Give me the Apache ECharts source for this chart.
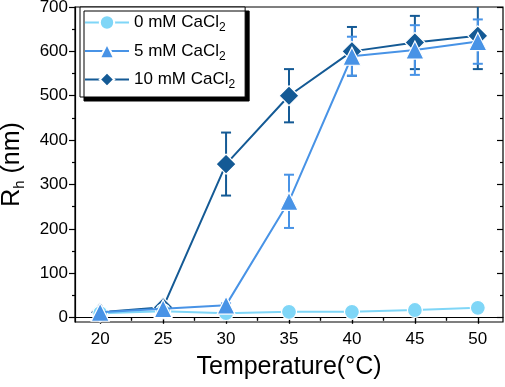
<!DOCTYPE html>
<html><head><meta charset="utf-8">
<script src="https://cdn.jsdelivr.net/npm/echarts@6/dist/echarts.min.js"></script>
<style>html,body{margin:0;padding:0;background:#fff}#c{width:505px;height:387px}</style>
</head><body><div id="c"></div>
<script>
const temps = [20, 25, 30, 35, 40, 45, 50];
const rh0 = [10, 14, 10, 13, 13, 17, 22];
const rh5 = [12, 20, 28, 262, 589, 603, 622];
const err5 = [3, 4, 4, 60, 44, 56, 50];
const rh10 = [12, 23, 346, 500, 600, 620, 635];
const err10 = [3, 5, 71, 60, 55, 60, 75];
const xTicks = [20, 25, 30, 35, 40, 45, 50];
const xMinor = [22.5, 27.5, 32.5, 37.5, 42.5, 47.5];
const yTicks = [0, 100, 200, 300, 400, 500, 600, 700];
const yMinor = [50, 150, 250, 350, 450, 550, 650];
const names = ['0 mM CaCl', '5 mM CaCl', '10 mM CaCl'];

const C0 = '#7fd6f7', C5 = '#4893e6', C10 = '#145a95';
const FONT = 'Liberation Sans';

function xAx(pos, vals, len, inside, labels, extra) {
  return Object.assign({
    type: 'value', min: 18, max: 52, position: pos,
    axisLine: {show: labels, lineStyle: {color: '#000', width: 1.2}},
    splitLine: {show: false},
    axisTick: {show: true, customValues: vals, length: len, inside: inside, lineStyle: {color: '#000', width: 1.2}},
    axisLabel: labels ? {show: true, customValues: vals, color: '#000', fontSize: 17, fontFamily: FONT, margin: 9} : {show: false}
  }, extra || {});
}
function yAx(pos, vals, len, inside, labels, extra) {
  return Object.assign({
    type: 'value', min: -10, max: 700, position: pos,
    axisLine: {show: labels, lineStyle: {color: '#000', width: 1.2}},
    splitLine: {show: false},
    axisTick: {show: true, customValues: vals, length: len, inside: inside, lineStyle: {color: '#000', width: 1.2}},
    axisLabel: labels ? {show: true, customValues: vals, color: '#000', fontSize: 17, fontFamily: FONT, margin: 7} : {show: false}
  }, extra || {});
}

function errSeries(vals, errs, color) {
  return {
    type: 'custom', z: 2,
    data: temps.map((t, i) => [t, vals[i], errs[i]]),
    renderItem: function (params, api) {
      const x = api.value(0), y = api.value(1), e = api.value(2);
      const top = api.coord([x, y + e]), bot = api.coord([x, y - e]);
      const w = 5;
      const st = {stroke: color, lineWidth: 2};
      return {type: 'group', children: [
        {type: 'line', shape: {x1: top[0], y1: top[1], x2: bot[0], y2: bot[1]}, style: st},
        {type: 'line', shape: {x1: top[0] - w, y1: top[1], x2: top[0] + w, y2: top[1]}, style: st},
        {type: 'line', shape: {x1: bot[0] - w, y1: bot[1], x2: bot[0] + w, y2: bot[1]}, style: st}
      ]};
    },
    silent: true, clip: true
  };
}

function lineSeries(name, vals, color, symbol, size, z) {
  return {
    name: name, type: 'line', z: z,
    data: temps.map((t, i) => [t, vals[i]]),
    symbol: symbol, symbolSize: size, showAllSymbol: true,
    lineStyle: {color: color, width: 2},
    itemStyle: {color: color, borderColor: '#fff', borderWidth: 1.2},
    emphasis: {disabled: true}
  };
}

const chart = echarts.init(document.getElementById('c'), null, {renderer: 'canvas'});
chart.setOption({
  animation: false,
  grid: {left: 75, right: 2, top: 7, bottom: 65, show: true, borderColor: '#000', borderWidth: 1.2,
    containLabel: false, outerBoundsMode: 'none'},
  xAxis: [
    xAx('bottom', xTicks, 6, false, true, {name: 'Temperature(°C)', nameLocation: 'middle', nameGap: 33,
      nameTextStyle: {color: '#000', fontSize: 25, fontFamily: FONT}}),
    xAx('bottom', xMinor, 3, false, false),
    xAx('top', xTicks, 6, true, false),
    xAx('top', xMinor, 3, true, false)
  ],
  yAxis: [
    yAx('left', yTicks, 6, false, true, {name: '{a|R}{b|h}{a| (nm)}', nameLocation: 'middle', nameGap: 48, nameRotate: 90,
      nameTextStyle: {color: '#000', fontFamily: FONT, rich: {
        a: {fontSize: 25, fontFamily: FONT, color: '#000'},
        b: {fontSize: 15, fontFamily: FONT, color: '#000', padding: [14, 0, 0, 0]}
      }}}),
    yAx('left', yMinor, 3, false, false),
    yAx('right', yTicks, 6, true, false),
    yAx('right', yMinor, 3, true, false)
  ],
  legend: {
    orient: 'vertical', left: 80, top: 7,
    data: names,
    itemWidth: 44, itemHeight: 18, itemGap: 8.5,
    padding: [7, 10, 6, 4],
    backgroundColor: '#fff', borderColor: '#000', borderWidth: 1,
    shadowColor: '#000', shadowBlur: 0, shadowOffsetX: 4, shadowOffsetY: 4,
    formatter: n => n + '{s|2}',
    textStyle: {color: '#000', fontSize: 17, fontFamily: FONT,
      rich: {s: {fontSize: 12, fontFamily: FONT, color: '#000', padding: [11, 0, 0, 0]}}},
    selectedMode: false
  },
  series: [
    errSeries(rh10, err10, C10),
    lineSeries(names[2], rh10, C10, 'diamond', 20, 3),
    lineSeries(names[0], rh0, C0, 'circle', 15, 4),
    errSeries(rh5, err5, C5),
    lineSeries(names[1], rh5, C5, 'triangle', 18, 5)
  ]
});
</script></body></html>
